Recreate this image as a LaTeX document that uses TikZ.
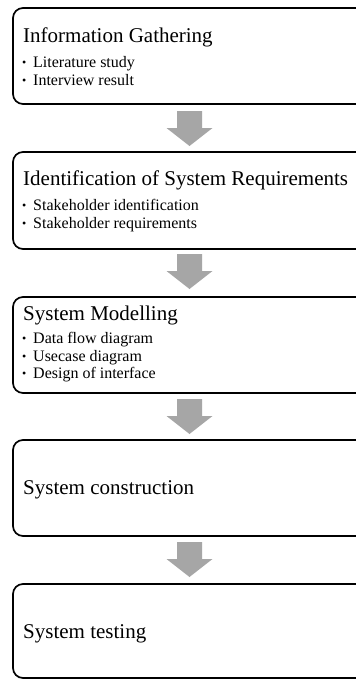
\documentclass[tikz,border=0pt]{standalone}
\usepackage{fontspec}
\setmainfont{Liberation Serif}
\definecolor{arrowgray}{HTML}{A6A6A6}
\tikzset{
  stagebox/.style={draw=black, line width=1.7pt, rounded corners=10pt, fill=white},
  headtext/.style={anchor=base west, inner sep=0pt, font=\fontsize{21}{24}\selectfont},
  itemtext/.style={anchor=base west, inner sep=0pt, font=\fontsize{16}{18}\selectfont},
  blockarrow/.style={fill=arrowgray, draw=none}
}
\newcommand{\stagebullet}[3]{%
  \node[itemtext] (#1) at (22,#2) {\makebox[11pt][l]{\fontsize{12}{14}\selectfont\raisebox{0.5pt}{•}}#3};}
\newcommand{\downarrowblock}[2]{%
  \coordinate (#1) at (189.5,#2);
  \fill[blockarrow] ($(#1)+(-12.5,0)$) -- ($(#1)+(12.5,0)$) -- ($(#1)+(12.5,17)$) -- ($(#1)+(23,17)$)
     -- ($(#1)+(0,35)$) -- ($(#1)+(-23,17)$) -- ($(#1)+(-12.5,17)$) -- cycle;}
\usetikzlibrary{calc}
\begin{document}
\begin{tikzpicture}[x=1pt,y=-1pt]
\useasboundingbox (0,0) rectangle (356,680);
\clip (0,0) rectangle (356,680);
\fill[white] (0,0) rectangle (356,680);
% boxes
\draw[stagebox] (13,8) rectangle (380,104);
\draw[stagebox] (13,152) rectangle (380,249);
\draw[stagebox] (13,297) rectangle (380,393);
\draw[stagebox] (13,440) rectangle (380,536);
\draw[stagebox] (13,584) rectangle (380,678);
% box 1
\node[headtext] (h1) at (23,42) {Information Gathering};
\stagebullet{b11}{67}{Literature study}
\stagebullet{b12}{85}{Interview result}
% box 2
\node[headtext] (h2) at (23,185) {Identification of System Requirements};
\stagebullet{b21}{210}{Stakeholder identification}
\stagebullet{b22}{228}{Stakeholder requirements}
% box 3
\node[headtext] (h3) at (23,320) {System Modelling};
\stagebullet{b31}{343}{Data flow diagram}
\stagebullet{b32}{361}{Usecase diagram}
\stagebullet{b33}{378}{Design of interface}
% box 4, 5
\node[headtext] (h4) at (23,494) {System construction};
\node[headtext] (h5) at (23,638) {System testing};
% arrows
\downarrowblock{a1}{111}
\downarrowblock{a2}{254}
\downarrowblock{a3}{399}
\downarrowblock{a4}{542}
\end{tikzpicture}
\end{document}
